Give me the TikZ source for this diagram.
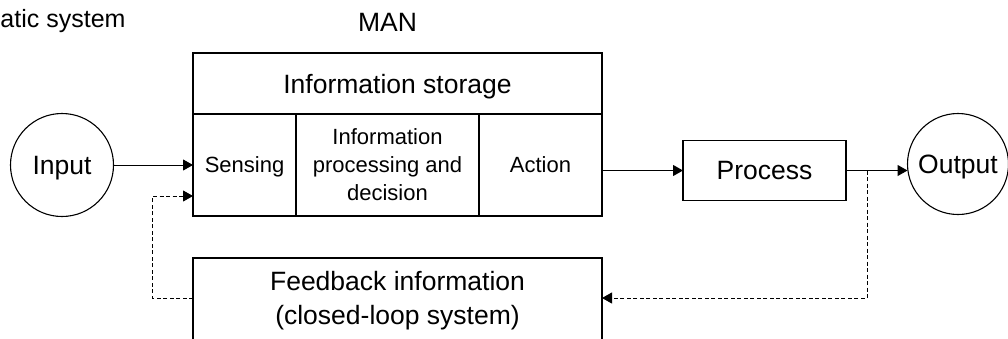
\documentclass[tikz,border=0pt]{standalone}
\usepackage{fontspec}
\setmainfont{Liberation Sans}
\usetikzlibrary{arrows.meta}
\begin{document}
\begin{tikzpicture}[x=1pt,y=-1pt,
  every node/.style={inner sep=0pt,outer sep=0pt},
  big/.style={font=\fontsize{26.5}{34}\selectfont},
  small/.style={font=\fontsize{22}{28}\selectfont},
  cell/.style={draw,line width=1.1pt,rectangle,align=center},
  oneline/.style={text depth=0pt},
  ring/.style={draw,line width=1.1pt,circle,big,oneline},
  tip/.style={-{Triangle[length=10pt,width=11pt]}},
  arr/.style={line width=1pt,tip},
  dsh/.style={line width=1pt,dash pattern=on 4pt off 2.5pt},
  dsharr/.style={dsh,tip}]
\useasboundingbox (0,0) rectangle (1008,338);

% titles
\node[font=\fontsize{25}{30}\selectfont,anchor=base west] (sys) at (0.5,27) {atic system};
\node[big,anchor=base] (man) at (387.5,31) {MAN};

% the human block
\node[cell,big,oneline,minimum width=409pt,minimum height=61pt] (store) at (397.5,83.5) {Information storage};
\node[cell,small,oneline,minimum width=103pt,minimum height=102pt] (sens) at (244.5,165) {Sensing};
\node[cell,small,minimum width=183pt,minimum height=102pt] (dec) at (387.5,165) {Information\\processing and\\decision};
\node[cell,small,oneline,minimum width=123pt,minimum height=102pt] (act) at (540.5,165) {Action};

% input, process, output
\node[ring,minimum size=103pt] (in) at (62,165) {Input};
\node[cell,big,oneline,minimum width=163pt,minimum height=60pt] (proc) at (764.5,170.5) {Process};
\node[ring,minimum size=101pt] (out) at (958,164) {Output};

% feedback block (runs past the lower edge)
\node[cell,minimum width=409pt,minimum height=110pt,anchor=north] (fb) at (397.5,258) {};
\node[big,align=center] (fbt) at (397.5,300.5) {Feedback information\\(closed-loop system)};

\coordinate (fbl) at (193,298);
\coordinate (fbr) at (602,298);
\coordinate (sensin) at (193,196);
\coordinate (tap) at (867,170.5);

% forward path
\draw[arr] (in) -- (sens);
\draw[arr] (act.east |- proc) -- (proc.west);
\draw[line width=1pt] (proc.east) -- (tap);
\draw[arr] (tap) -- (proc -| out.west);

% feedback loop
\draw[dsharr] (tap) |- (fbr);
\draw[dsharr] (fbl) -- ++(-40.5,0) |- (sensin);
\end{tikzpicture}
\end{document}
